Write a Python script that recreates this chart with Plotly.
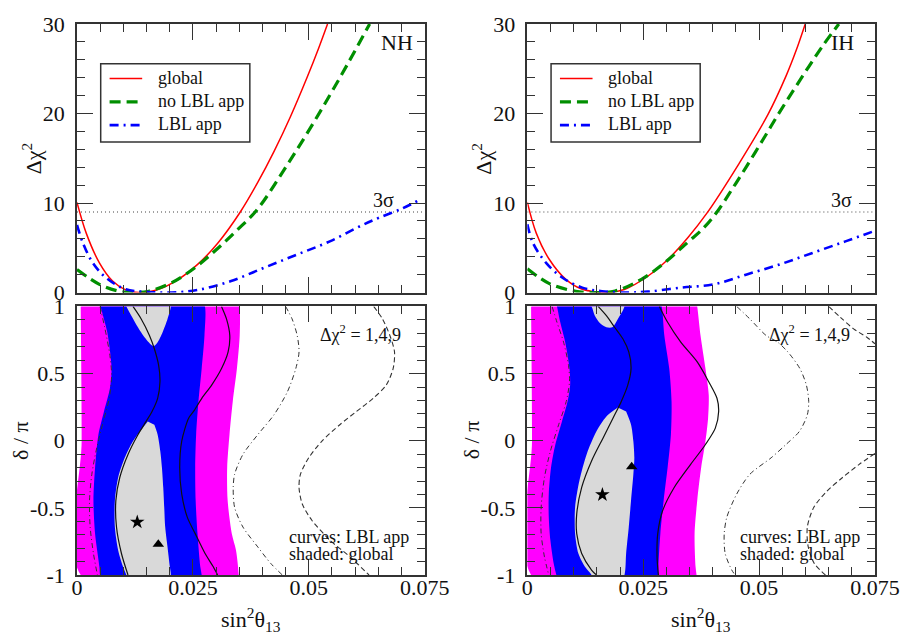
import plotly.graph_objects as go

FONT = "Liberation Serif"

# ---------------- tick labels / constants ----------------
D_TICKVALS = [-1, -0.5, 0, 0.5, 1]
D_TICKTEXT = ["-1", "-0.5", "0", "0.5", "1"]
SIGMA3_LEVEL = 9
X_RANGE = [0, 0.075]
LEGEND_NAMES = ["global", "no LBL app", "LBL app"]

# ---------------- top panels: delta chi^2 vs sin^2 theta13 ----------------
NH_glob_x = [0, 0.00199, 0.00483, 0.00767, 0.01051, 0.01335, 0.01761, 0.02188, 0.02614, 0.0304, 0.03523, 0.03899, 0.04254, 0.04609, 0.04965, 0.05213, 0.05405]
NH_glob_y = [10.07, 6.64, 3.32, 1.29, 0.30, 0.0, 0.37, 1.48, 3.2, 5.54, 9.0, 12.3, 15.8, 19.7, 24.05, 27.3, 30.0]
NH_nolbl_x = [0, 0.00483, 0.00909, 0.01193, 0.01548, 0.02045, 0.02543, 0.0304, 0.0345, 0.03899, 0.04503, 0.05107, 0.0571, 0.06314]
NH_nolbl_y = [2.58, 0.92, 0.15, 0.0, 0.15, 1.11, 2.77, 4.95, 6.95, 9.35, 14.0, 19.0, 24.35, 30.0]
NH_lbl_x = [0, 0.00128, 0.00341, 0.00625, 0.01051, 0.01548, 0.02045, 0.02614, 0.03324, 0.04034, 0.04744, 0.05455, 0.06165, 0.06527, 0.07024, 0.07379]
NH_lbl_y = [7.56, 5.54, 3.32, 1.66, 0.37, 0.07, 0.0, 0.30, 1.29, 2.77, 4.24, 5.72, 7.56, 8.38, 9.41, 10.33]

IH_glob_x = [0, 0.00192, 0.00475, 0.0083, 0.01185, 0.0154, 0.01753, 0.02107, 0.02604, 0.0303, 0.03456, 0.03878, 0.04553, 0.05192, 0.05582, 0.05796, 0.05995]
IH_glob_y = [10.07, 6.64, 3.69, 1.48, 0.37, 0.07, 0.0, 0.37, 1.85, 3.69, 6.1, 8.9, 14.3, 19.9, 24.2, 27.0, 30.0]
IH_nolbl_x = [0, 0.00475, 0.01043, 0.01469, 0.01895, 0.02462, 0.02959, 0.03456, 0.0380, 0.04091, 0.04411, 0.0473, 0.05085, 0.05405, 0.0576, 0.0608, 0.06364, 0.06719]
IH_nolbl_y = [2.66, 1.0, 0.15, 0.0, 0.18, 1.48, 3.32, 5.6, 7.2, 9.0, 11.5, 14.1, 17.1, 19.85, 22.75, 25.3, 27.5, 30.0]
IH_lbl_x = [0, 0.00121, 0.00404, 0.00759, 0.01185, 0.01611, 0.02107, 0.02604, 0.03314, 0.04023, 0.04733, 0.05442, 0.06152, 0.06862, 0.075]
IH_lbl_y = [7.64, 5.54, 3.32, 1.66, 0.55, 0.15, 0.0, 0.11, 0.55, 0.92, 2.03, 3.14, 4.43, 5.72, 6.9]

# ---------------- bottom panels: region boundaries (delta/pi descending) ----------------
# NH, shaded (global)
NH_mag_L_d = [1, 0, -1]
NH_mag_L_x = [0.0008, 0.001, 0.0008]
NH_mag_R_d = [1, 0.784, 0.537, 0.291, 0.045, -0.2, -0.446, -0.692, -0.815, -1]
NH_mag_R_x = [0.0351, 0.0351, 0.0345, 0.0336, 0.0329, 0.0324, 0.0325, 0.0334, 0.0343, 0.0349]
NH_blu_L_d = [1, 0.808, 0.537, 0.39, 0.218, 0.045, -0.2, -0.446, -0.692, -0.939, -1]
NH_blu_L_x = [0.0051, 0.00653, 0.00746, 0.0071, 0.00582, 0.00462, 0.0039, 0.00355, 0.0039, 0.00483, 0.00497]
NH_blu_R_d = [1, 0.784, 0.537, 0.291, 0.045, -0.2, -0.446, -0.692, -0.939, -1]
NH_blu_R_x = [0.0276, 0.0275, 0.0269, 0.0262, 0.0257, 0.0255, 0.0256, 0.0260, 0.0266, 0.0269]
NH_gry_loL_d = [0.144, 0.082, -0.004, -0.127, -0.274, -0.446, -0.643, -0.815, -0.939, -1]
NH_gry_loL_x = [0.01527, 0.01385, 0.01207, 0.0103, 0.00888, 0.00817, 0.00817, 0.00888, 0.00994, 0.01065]
NH_gry_loR_d = [0.144, 0.119, 0.045, -0.078, -0.2, -0.348, -0.496, -0.643, -0.791, -0.939, -1]
NH_gry_loR_x = [0.01527, 0.01669, 0.0174, 0.01797, 0.01832, 0.01861, 0.01882, 0.01903, 0.01953, 0.02003, 0.02024]
NH_gry_upL_d = [1, 0.931, 0.845, 0.771, 0.705]
NH_gry_upL_x = [0.0110, 0.01172, 0.01314, 0.01456, 0.01648]
NH_gry_upR_d = [1, 0.907, 0.808, 0.734, 0.705]
NH_gry_upR_x = [0.01989, 0.01953, 0.01847, 0.0174, 0.01648]
# NH, curves (LBL app)
NH_c1L_d = [1, 0.907, 0.784, 0.685, 0.562, 0.439, 0.316, 0.218, 0.144, 0.045, -0.102, -0.274, -0.446, -0.643, -0.84, -1]
NH_c1L_x = [0.01207, 0.01385, 0.01563, 0.01669, 0.01761, 0.0179, 0.0174, 0.01619, 0.01491, 0.01314, 0.0110, 0.00923, 0.00838, 0.00852, 0.00959, 0.0110]
NH_c1R_d = [1, 0.907, 0.784, 0.661, 0.537, 0.414, 0.316, 0.218, 0.168, -0.004, -0.2, -0.397, -0.569, -0.692, -0.84, -0.939, -1]
NH_c1R_x = [0.03117, 0.03225, 0.03296, 0.0326, 0.03118, 0.02905, 0.02692, 0.02514, 0.02408, 0.02259, 0.02216, 0.02259, 0.02379, 0.0255, 0.02763, 0.0294, 0.03033]
NH_c2L_d = [1, 0.833, 0.636, 0.488, 0.316, 0.144, -0.053, -0.25, -0.446, -0.643, -0.84, -1]
NH_c2L_x = [0.00497, 0.00604, 0.0071, 0.00746, 0.00696, 0.00568, 0.00426, 0.0032, 0.0027, 0.00284, 0.00355, 0.0044]
NH_c2R_d = [1, 0.907, 0.784, 0.661, 0.537, 0.365, 0.193, 0.045, -0.102, -0.25, -0.348, -0.496, -0.643, -0.791, -0.914, -1]
NH_c2R_x = [0.0450, 0.0464, 0.0475, 0.0479, 0.0472, 0.0454, 0.0425, 0.0390, 0.0358, 0.0340, 0.0337, 0.0340, 0.0358, 0.0390, 0.0418, 0.0443]
NH_c3R_d = [1, 0.907, 0.784, 0.661, 0.537, 0.414, 0.316, 0.218, 0.119, -0.004, -0.127, -0.25, -0.348, -0.471, -0.594, -0.742, -0.865, -1]
NH_c3R_x = [0.0640, 0.0659, 0.0675, 0.0685, 0.0682, 0.0667, 0.0639, 0.0603, 0.0567, 0.0528, 0.0500, 0.0482, 0.0479, 0.0486, 0.0507, 0.0546, 0.0589, 0.0630]
NH_star = (0.0130, -0.606)
NH_tri = (0.01754, -0.771)

# IH, shaded (global)
IH_mag_L_d = [1, 0, -1]
IH_mag_L_x = [0.0008, 0.001, 0.0008]
IH_mag_R_d = [1, 0.784, 0.537, 0.340, 0.168, -0.004, -0.2, -0.446, -0.692, -0.939, -1]
IH_mag_R_x = [0.03665, 0.03736, 0.03842, 0.03913, 0.03899, 0.03842, 0.0375, 0.03665, 0.03608, 0.03629, 0.0365]
IH_blu_L_d = [1, 0.882, 0.734, 0.537, 0.414, 0.291, 0.144, -0.028, -0.2, -0.397, -0.569, -0.742, -0.914, -1]
IH_blu_L_x = [0.00639, 0.0071, 0.00817, 0.00909, 0.00923, 0.00866, 0.00746, 0.00604, 0.00511, 0.00462, 0.00462, 0.00497, 0.00568, 0.00625]
IH_blu_R_d = [1, 0.784, 0.537, 0.291, 0.045, -0.2, -0.446, -0.692, -0.939, -1]
IH_blu_R_x = [0.02898, 0.02955, 0.03061, 0.03111, 0.03097, 0.03026, 0.0294, 0.02869, 0.02827, 0.02827]
IH_gry_loL_d = [0.247, 0.181, 0.07, -0.102, -0.299, -0.496, -0.692, -0.84, -0.939, -1]
IH_gry_loL_x = [0.01953, 0.01705, 0.01491, 0.01278, 0.01122, 0.0103, 0.0103, 0.01101, 0.01243, 0.01385]
IH_gry_loR_d = [0.247, 0.218, 0.119, -0.004, -0.127, -0.25, -0.446, -0.643, -0.84, -1]
IH_gry_loR_x = [0.01953, 0.02131, 0.02237, 0.02287, 0.02308, 0.02287, 0.02237, 0.02188, 0.02131, 0.02095]
IH_gry_upL_d = [1, 0.931, 0.877, 0.845]
IH_gry_upL_x = [0.01385, 0.01456, 0.01563, 0.01705]
IH_gry_upR_d = [1, 0.907, 0.845]
IH_gry_upR_x = [0.02024, 0.01953, 0.01832]
# IH, curves (LBL app)
IH_c1L_d = [1, 0.931, 0.845, 0.759, 0.661, 0.537, 0.414, 0.291, 0.168, 0.021, -0.151, -0.348, -0.545, -0.692, -0.84, -0.963, -1]
IH_c1L_x = [0.01527, 0.01705, 0.01882, 0.0206, 0.02188, 0.02237, 0.02166, 0.02024, 0.01847, 0.01634, 0.01385, 0.01172, 0.01065, 0.01065, 0.01172, 0.01385, 0.01491]
IH_c1R_d = [1, 0.882, 0.734, 0.587, 0.439, 0.316, 0.218, 0.094, -0.028, -0.176, -0.348, -0.52, -0.692, -0.865, -1]
IH_c1R_x = [0.02848, 0.03026, 0.03310, 0.03665, 0.03913, 0.04091, 0.04127, 0.04055, 0.03842, 0.03523, 0.03168, 0.02919, 0.02813, 0.02798, 0.02827]
IH_c2L_d = [1, 0.882, 0.734, 0.562, 0.439, 0.291, 0.119, -0.078, -0.274, -0.496, -0.692, -0.865, -1]
IH_c2L_x = [0.00533, 0.00639, 0.00781, 0.00888, 0.00909, 0.00838, 0.00675, 0.00497, 0.00369, 0.00298, 0.00298, 0.00369, 0.00462]
IH_c2R_d = [1, 0.907, 0.784, 0.734, 0.661, 0.537, 0.414, 0.291, 0.193, 0.07, -0.028, -0.127, -0.25, -0.397, -0.569, -0.692, -0.84, -0.963, -1]
IH_c2R_x = [0.04517, 0.0480, 0.0515, 0.0540, 0.0562, 0.0588, 0.0602, 0.0607, 0.0604, 0.0587, 0.0558, 0.0526, 0.0480, 0.04517, 0.04304, 0.04247, 0.04268, 0.0441, 0.04482]
IH_c3a_d = [1, 0.919, 0.833, 0.771, 0.722]
IH_c3a_x = [0.0650, 0.06754, 0.07038, 0.07323, 0.075]
IH_c3b_d = [-0.095, -0.176, -0.274, -0.373, -0.496, -0.643, -0.791, -0.914, -1]
IH_c3b_x = [0.075, 0.0716, 0.0680, 0.0647, 0.0618, 0.0604, 0.0606, 0.0619, 0.0643]
IH_star = (0.01619, -0.402)
IH_tri = (0.02251, -0.193)

# ---------------- styles ----------------
RED, GREEN, BLUE = "#ff0000", "#008f00", "#0000ff"
MAGENTA, BLUEFILL, GRAY = "#ff00ff", "#0000ff", "#d9d9d9"
AXC = "#333333"
TXT = "#111111"
STYLES = [
    dict(color=RED, width=1.5, dash="solid"),
    dict(color=GREEN, width=3.2, dash="11px,6px"),
    dict(color=BLUE, width=2.6, dash="9px,5px,2px,5px"),
]

# figure geometry (pixels)
W, H = 912, 638
ML, MT, PW, PH = 77, 19, 808, 556


def px2paper_x(px):
    return (px - ML) / PW


def px2paper_y(py):
    return (MT + PH - py) / PH


def periodic_edge(d, x):
    """extend an edge (delta descending 1..-1) using the 2-periodicity of delta/pi"""
    top = [(dd + 2, xx) for dd, xx in zip(d, x) if -1 < dd < -0.3]
    mid = list(zip(d, x))
    bot = [(dd - 2, xx) for dd, xx in zip(d, x) if 0.3 < dd < 1]
    return top + mid + bot


def band_polygon(dl, xl, dr, xr):
    L = periodic_edge(dl, xl)
    R = periodic_edge(dr, xr)
    pts = L + R[::-1]
    return [p[1] for p in pts], [p[0] for p in pts]


def island_polygon(loLd, loLx, loRd, loRx, upLd, upLx, upRd, upRx, shift):
    loL = list(zip(loLd, loLx))
    loR = list(zip(loRd, loRx))
    upL = [(d - 2, x) for d, x in zip(upLd, upLx)][1:]
    upR = [(d - 2, x) for d, x in zip(upRd, upRx)][1:]
    pts = loL + upL + upR[::-1] + loR[1:][::-1]
    clean = []
    for p in pts:
        if not clean or abs(clean[-1][0] - p[0]) > 1e-9 or abs(clean[-1][1] - p[1]) > 1e-9:
            clean.append(p)
    return [p[1] for p in clean], [p[0] + shift for p in clean]


fig = go.Figure()


def add_top(xa, ya, series):
    fig.add_trace(go.Scatter(x=list(X_RANGE), y=[SIGMA3_LEVEL, SIGMA3_LEVEL], mode="lines",
                             line=dict(color="#444444", width=1.2, dash="1px,3px"),
                             xaxis=xa, yaxis=ya, showlegend=False, hoverinfo="skip"))
    for (sx, sy), name, st in zip(series, LEGEND_NAMES, STYLES):
        fig.add_trace(go.Scatter(x=sx, y=sy, mode="lines", name=name,
                                 line=dict(color=st["color"], width=st["width"], dash=st["dash"],
                                           shape="spline", smoothing=1.0),
                                 xaxis=xa, yaxis=ya, showlegend=False))


add_top("x", "y", [(NH_glob_x, NH_glob_y), (NH_nolbl_x, NH_nolbl_y), (NH_lbl_x, NH_lbl_y)])
add_top("x3", "y3", [(IH_glob_x, IH_glob_y), (IH_nolbl_x, IH_nolbl_y), (IH_lbl_x, IH_lbl_y)])


def fill_trace(px, py, color, xa, ya):
    fig.add_trace(go.Scatter(x=px, y=py, mode="lines", fill="toself", fillcolor=color,
                             line=dict(width=0, color=color, shape="spline", smoothing=0.8),
                             xaxis=xa, yaxis=ya, showlegend=False, hoverinfo="skip"))


def curve(x, d, dash, xa, ya, width=1.2, color="#111111"):
    fig.add_trace(go.Scatter(x=x, y=d, mode="lines",
                             line=dict(color=color, width=width, dash=dash, shape="spline", smoothing=0.8),
                             xaxis=xa, yaxis=ya, showlegend=False, hoverinfo="skip"))


def markers(star, tri, xa, ya):
    fig.add_trace(go.Scatter(x=[star[0]], y=[star[1]], mode="markers",
                             marker=dict(symbol="star", size=11, color="black"),
                             xaxis=xa, yaxis=ya, showlegend=False))
    fig.add_trace(go.Scatter(x=[tri[0]], y=[tri[1]], mode="markers",
                             marker=dict(symbol="triangle-up", size=10, color="black"),
                             xaxis=xa, yaxis=ya, showlegend=False))


DASHDOT = "5px,3px,1px,3px"
DASHED = "5px,3px"

# NH bottom
xa, ya = "x2", "y2"
fill_trace(*band_polygon(NH_mag_L_d, NH_mag_L_x, NH_mag_R_d, NH_mag_R_x), MAGENTA, xa, ya)
fill_trace(*band_polygon(NH_blu_L_d, NH_blu_L_x, NH_blu_R_d, NH_blu_R_x), BLUEFILL, xa, ya)
for s in (0, 2):
    fill_trace(*island_polygon(NH_gry_loL_d, NH_gry_loL_x, NH_gry_loR_d, NH_gry_loR_x,
                               NH_gry_upL_d, NH_gry_upL_x, NH_gry_upR_d, NH_gry_upR_x, s), GRAY, xa, ya)
curve(NH_c1L_x, NH_c1L_d, "solid", xa, ya)
curve(NH_c1R_x, NH_c1R_d, "solid", xa, ya)
curve(NH_c2L_x, NH_c2L_d, DASHDOT, xa, ya, 1.0, "#333333")
curve(NH_c2R_x, NH_c2R_d, DASHDOT, xa, ya, 1.0, "#333333")
curve(NH_c3R_x, NH_c3R_d, DASHED, xa, ya, 1.1, "#333333")
markers(NH_star, NH_tri, xa, ya)

# IH bottom
xa, ya = "x4", "y4"
fill_trace(*band_polygon(IH_mag_L_d, IH_mag_L_x, IH_mag_R_d, IH_mag_R_x), MAGENTA, xa, ya)
fill_trace(*band_polygon(IH_blu_L_d, IH_blu_L_x, IH_blu_R_d, IH_blu_R_x), BLUEFILL, xa, ya)
for s in (0, 2):
    fill_trace(*island_polygon(IH_gry_loL_d, IH_gry_loL_x, IH_gry_loR_d, IH_gry_loR_x,
                               IH_gry_upL_d, IH_gry_upL_x, IH_gry_upR_d, IH_gry_upR_x, s), GRAY, xa, ya)
curve(IH_c1L_x, IH_c1L_d, "solid", xa, ya)
curve(IH_c1R_x, IH_c1R_d, "solid", xa, ya)
curve(IH_c2L_x, IH_c2L_d, DASHDOT, xa, ya, 1.0, "#333333")
curve(IH_c2R_x, IH_c2R_d, DASHDOT, xa, ya, 1.0, "#333333")
curve(IH_c3a_x, IH_c3a_d, DASHED, xa, ya, 1.1, "#333333")
curve(IH_c3b_x, IH_c3b_d, DASHED, xa, ya, 1.1, "#333333")
markers(IH_star, IH_tri, xa, ya)

# ---------------- axes ----------------
LEFT_DOM = [0.0, 352 / PW]
RIGHT_DOM = [456 / PW, 1.0]
TOP_DOM = [285 / PH, 1.0]
BOT_DOM = [0.0, 271 / PH]

tickfont = dict(family=FONT, size=22, color=TXT)
common_axis = dict(ticks="inside", ticklen=16, tickwidth=1.2, tickcolor=AXC,
                   showline=True, linecolor=AXC, linewidth=1.5, mirror="allticks",
                   showgrid=False, zeroline=False, tickfont=tickfont)


def xaxis(domain, anchor, labels):
    return dict(domain=domain, anchor=anchor, range=X_RANGE, dtick=0.025, tick0=0,
                showticklabels=labels, ticklabelstandoff=-8, **common_axis,
                minor=dict(dtick=0.005, tick0=0, ticks="inside", ticklen=8, tickwidth=1.2,
                           tickcolor=AXC, showgrid=False))


def chi_axis(domain, anchor):
    return dict(domain=domain, anchor=anchor, range=[0, 30], dtick=10, tick0=0,
                ticklabelstandoff=6, **common_axis,
                minor=dict(dtick=2, tick0=0, ticks="inside", ticklen=8, tickwidth=1.2,
                           tickcolor=AXC, showgrid=False))


def delta_axis(domain, anchor):
    return dict(domain=domain, anchor=anchor, range=[-1, 1], tickmode="array",
                tickvals=D_TICKVALS, ticktext=D_TICKTEXT, ticklabelstandoff=6, **common_axis,
                minor=dict(dtick=0.1, tick0=0, ticks="inside", ticklen=8, tickwidth=1.2,
                           tickcolor=AXC, showgrid=False))


ann = []
shapes = []


def txt(x, y, xref, yref, text, size, xanchor="center", yanchor="middle", angle=0):
    ann.append(dict(x=x, y=y, xref=xref, yref=yref, text=text, showarrow=False,
                    font=dict(family=FONT, size=size, color=TXT),
                    xanchor=xanchor, yanchor=yanchor, textangle=angle))


# hand-drawn legend boxes (one per top panel)
for dx in (0, 456):
    shapes.append(dict(type="rect", xref="paper", yref="paper",
                       x0=px2paper_x(101 + dx), x1=px2paper_x(252 + dx),
                       y0=px2paper_y(138), y1=px2paper_y(59),
                       line=dict(color=AXC, width=1.5), fillcolor="white", layer="above"))
    for row, (name, st) in enumerate(zip(LEGEND_NAMES, STYLES)):
        py = 74 + row * 23.5
        shapes.append(dict(type="line", xref="paper", yref="paper",
                           x0=px2paper_x(110 + dx), x1=px2paper_x(143 + dx),
                           y0=px2paper_y(py), y1=px2paper_y(py),
                           line=dict(color=st["color"], width=st["width"], dash=st["dash"]),
                           layer="above"))
        txt(px2paper_x(157 + dx), px2paper_y(py - 1), "paper", "paper", name, 18, xanchor="left")

# panel labels
txt(0.0690, 27.9, "x", "y", "NH", 22)
txt(0.0679, 27.9, "x3", "y3", "IH", 22)
txt(0.0662, 10.3, "x", "y", "3σ", 20)
txt(0.0678, 10.3, "x3", "y3", "3σ", 20)
for xr, yr, xright in (("x2", "y2", 0.0703), ("x4", "y4", 0.0700)):
    txt(xright, 0.80, xr, yr, "Δχ<sup>2</sup> = 1,4,9", 18, xanchor="right")
    txt(0.0454, -0.715, xr, yr, "curves: LBL app", 18, xanchor="left")
    txt(0.0454, -0.840, xr, yr, "shaded: global", 18, xanchor="left")

# axis titles
for cx in (253, 709):
    txt(px2paper_x(cx), px2paper_y(620), "paper", "paper", "sin<sup>2</sup>θ<sub>13</sub>", 22)
for cx in (31, 487):
    txt(px2paper_x(cx), px2paper_y(155), "paper", "paper", "Δχ<sup>2</sup>", 22, angle=-90)
for cx in (20, 476):
    txt(px2paper_x(cx), px2paper_y(439), "paper", "paper", "δ / π", 22, angle=-90)

fig.update_layout(
    width=W, height=H,
    margin=dict(l=ML, r=W - ML - PW, t=MT, b=H - MT - PH),
    paper_bgcolor="white", plot_bgcolor="white",
    font=dict(family=FONT, size=18, color=TXT),
    showlegend=False,
    xaxis=xaxis(LEFT_DOM, "y", False),
    yaxis=chi_axis(TOP_DOM, "x"),
    xaxis2=xaxis(LEFT_DOM, "y2", True),
    yaxis2=delta_axis(BOT_DOM, "x2"),
    xaxis3=xaxis(RIGHT_DOM, "y3", False),
    yaxis3=chi_axis(TOP_DOM, "x3"),
    xaxis4=xaxis(RIGHT_DOM, "y4", True),
    yaxis4=delta_axis(BOT_DOM, "x4"),
    annotations=ann,
    shapes=shapes,
    hovermode=False,
)

fig.write_html("out.html", config={"displayModeBar": False},
               post_script="document.body.style.margin='0px';")
